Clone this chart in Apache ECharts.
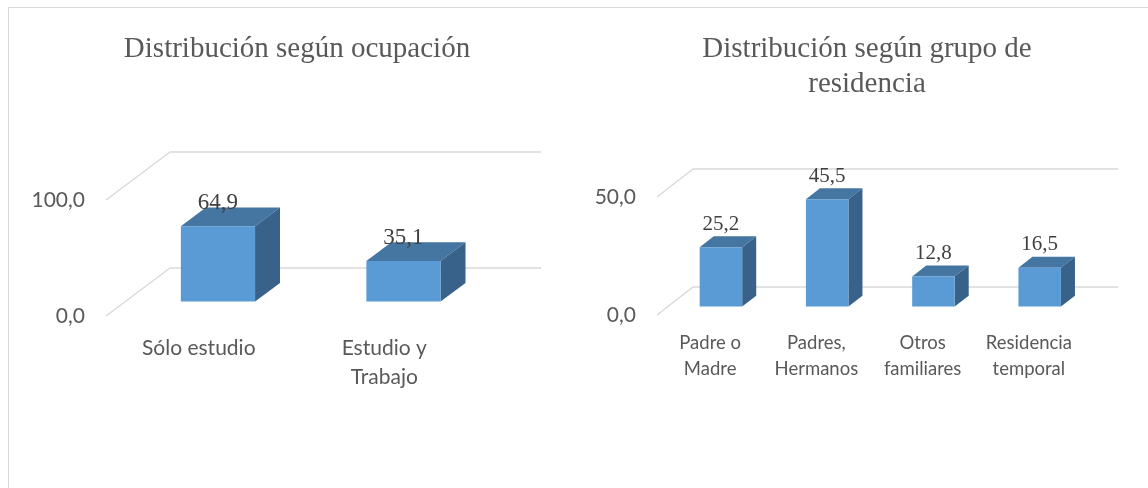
<!DOCTYPE html>
<html>
<head>
<meta charset="utf-8">
<script src="https://cdn.jsdelivr.net/npm/echarts@6/dist/echarts.min.js"></script>
<style>
html, body { margin: 0; padding: 0; background: #fff; }
#chart { width: 1148px; height: 488px; }
</style>
</head>
<body>
<div id="chart"></div>
<script>
var occCategories = ['Sólo estudio', 'Estudio y\nTrabajo'];
var occValues = [64.9, 35.1];
var occTicks = [0, 100];

var resCategories = ['Padre o\nMadre', 'Padres,\nHermanos', 'Otros\nfamiliares', 'Residencia\ntemporal'];
var resValues = [25.2, 45.5, 12.8, 16.5];
var resTicks = [0, 50];

var fmt = function (v) { return v.toFixed(1).replace('.', ','); };

// offset from the front edge of the floor to the back wall
var occDepth = [64, -48];
var resDepth = [36, -28];

// 3D column drawn on the front grid, pushed back into the floor
function box(depth, labelSize) {
	return function (params, api) {
		var i = api.value(0), v = api.value(1);
		var base = api.coord([i, 0]), top = api.coord([i, v]);
		var w = api.size([1, 0])[0] * 0.4;
		var t1 = 0.3, t2 = 0.69;
		var xl = base[0] - w / 2 + t1 * depth[0], xr = xl + w;
		var yb = base[1] + t1 * depth[1], yt = top[1] + t1 * depth[1];
		var dx = (t2 - t1) * depth[0], dy = (t2 - t1) * depth[1];
		return {
			type: 'group',
			children: [
				{type: 'polygon', shape: {points: [[xl, yt], [xr, yt], [xr + dx, yt + dy], [xl + dx, yt + dy]]}, style: {fill: '#4575a1'}},
				{type: 'polygon', shape: {points: [[xr, yt], [xr + dx, yt + dy], [xr + dx, yb + dy], [xr, yb]]}, style: {fill: '#38628a'}},
				{type: 'rect', shape: {x: xl, y: yt, width: w, height: yb - yt}, style: {fill: '#5b9bd5'}},
				{type: 'text', style: {x: (xl + xr) / 2, y: yt - 23, text: fmt(v), align: 'center', verticalAlign: 'middle',
					fontSize: labelSize, fontFamily: 'Liberation Serif', fill: '#404040'}}
			]
		};
	};
}

// side wall lines joining the front labels to the back gridlines
function diag(depth) {
	return function (params, api) {
		var p = api.coord([0, api.value(1)]);
		var x = params.coordSys.x;
		return {type: 'line', shape: {x1: x, y1: p[1], x2: x + depth[0], y2: p[1] + depth[1]},
			style: {stroke: '#d9d9d9', lineWidth: 1.5}};
	};
}

var catLabel = function (size, lh, margin) {
	return {margin: margin, fontSize: size, lineHeight: lh, color: '#595959', fontFamily: 'Lato', interval: 0};
};
var valLabel = {margin: 21, formatter: fmt, fontSize: 21, color: '#595959', fontFamily: 'Lato'};
var gridLine = {lineStyle: {color: '#d9d9d9', width: 1.5}};
var titleStyle = {fontFamily: 'Liberation Serif', fontSize: 29, fontWeight: 'normal', color: '#595959', lineHeight: 35};

echarts.init(document.getElementById('chart')).setOption({
	animation: false,
	title: [
		{text: 'Distribución según ocupación', left: 292, top: 27, textAlign: 'center', textStyle: titleStyle},
		{text: 'Distribución según grupo de\nresidencia', left: 862, top: 27, textAlign: 'center', textStyle: titleStyle}
	],
	graphic: [
		{type: 'polyline', shape: {points: [[8.5, 488], [8.5, 7.5], [1148, 7.5]]}, style: {stroke: '#d9d9d9', lineWidth: 1, fill: null}}
	],
	grid: [
		{left: 170, top: 152, width: 371, height: 116},
		{left: 106, top: 200, width: 371, height: 116},
		{left: 693, top: 169, width: 425, height: 118},
		{left: 657, top: 197, width: 425, height: 118}
	],
	xAxis: [
		{gridIndex: 0, type: 'category', data: occCategories, show: false},
		{gridIndex: 1, type: 'category', data: occCategories, axisLine: {show: false}, axisTick: {show: false}, axisLabel: catLabel(21, 29, 18)},
		{gridIndex: 2, type: 'category', data: resCategories, show: false},
		{gridIndex: 3, type: 'category', data: resCategories, axisLine: {show: false}, axisTick: {show: false}, axisLabel: catLabel(18.5, 26, 15)}
	],
	yAxis: [
		{gridIndex: 0, min: occTicks[0], max: occTicks[1], interval: occTicks[1] - occTicks[0], axisLabel: {show: false}, splitLine: gridLine},
		{gridIndex: 1, min: occTicks[0], max: occTicks[1], interval: occTicks[1] - occTicks[0], axisLabel: valLabel, splitLine: {show: false}},
		{gridIndex: 2, min: resTicks[0], max: resTicks[1], interval: resTicks[1] - resTicks[0], axisLabel: {show: false}, splitLine: gridLine},
		{gridIndex: 3, min: resTicks[0], max: resTicks[1], interval: resTicks[1] - resTicks[0], axisLabel: valLabel, splitLine: {show: false}}
	],
	series: [
		{type: 'custom', xAxisIndex: 1, yAxisIndex: 1, renderItem: diag(occDepth),
			data: occTicks.map(function (t) { return [0, t]; })},
		{type: 'custom', xAxisIndex: 3, yAxisIndex: 3, renderItem: diag(resDepth),
			data: resTicks.map(function (t) { return [0, t]; })},
		{type: 'custom', xAxisIndex: 1, yAxisIndex: 1, renderItem: box(occDepth, 23),
			data: occValues.map(function (v, i) { return [i, v]; })},
		{type: 'custom', xAxisIndex: 3, yAxisIndex: 3, renderItem: box(resDepth, 21),
			data: resValues.map(function (v, i) { return [i, v]; })}
	]
});
</script>
</body>
</html>
